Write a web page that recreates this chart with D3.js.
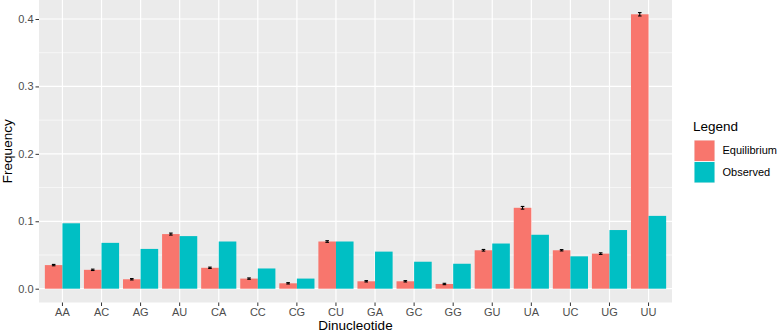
<!DOCTYPE html>
<html><head><meta charset="utf-8">
<script src="https://cdn.jsdelivr.net/npm/d3@7"></script>
<style>body{margin:0;background:#fff}svg{display:block}text{font-family:"Liberation Sans",Arial,Helvetica,sans-serif}</style>
</head><body>
<svg id="c" width="778" height="333"></svg>
<script>
const categories = ["AA","AC","AG","AU","CA","CC","CG","CU","GA","GC","GG","GU","UA","UC","UG","UU"];
const seriesNames = ["Equilibrium","Observed"];
const equilibrium = [0.035,0.028,0.014,0.081,0.031,0.015,0.008,0.070,0.011,0.011,0.007,0.057,0.120,0.057,0.052,0.407];
const equilibriumErr = [0.001,0.001,0.001,0.0015,0.001,0.001,0.001,0.0012,0.001,0.001,0.001,0.0012,0.002,0.001,0.0012,0.0025];
const observed = [0.097,0.068,0.059,0.078,0.070,0.030,0.015,0.070,0.055,0.040,0.037,0.067,0.080,0.048,0.087,0.108];
const yTicks = [0.0,0.1,0.2,0.3,0.4];
const colors = ["#F8766D","#00BFC4"];

const svg = d3.select("#c");
const pL = 39, pR = 672, pT = 0, pB = 302.5;
const y = d3.scaleLinear().domain([0,0.4]).range([288.7,19]);
const x = d3.scaleBand().domain(categories).range([pL,pR]).paddingInner(0).paddingOuter(0.1);
// ggplot discrete expansion: 0.6 units each side
const unit = (pR-pL)/16.2;
x.range([pL+0.6*unit-0.5*unit, pR-0.6*unit+0.5*unit]).paddingOuter(0);
const xs = d3.scaleBand().domain(seriesNames).range([0, x.bandwidth()*0.9]);
const cx = c => x(c) + x.bandwidth()/2;

svg.append("rect").attr("x",pL).attr("y",pT).attr("width",pR-pL).attr("height",pB-pT).attr("fill","#EBEBEB");
// minor grid
const minorY = [0.05,0.15,0.25,0.35];
svg.selectAll(".gmy").data(minorY).enter().append("line")
  .attr("x1",pL).attr("x2",pR).attr("y1",d=>y(d)).attr("y2",d=>y(d))
  .attr("stroke","#fff").attr("stroke-width",0.6);
svg.selectAll(".gy").data(yTicks).enter().append("line")
  .attr("x1",pL).attr("x2",pR).attr("y1",d=>y(d)).attr("y2",d=>y(d))
  .attr("stroke","#fff").attr("stroke-width",1.2);
svg.selectAll(".gx").data(categories).enter().append("line")
  .attr("x1",d=>cx(d)).attr("x2",d=>cx(d)).attr("y1",pT).attr("y2",pB)
  .attr("stroke","#fff").attr("stroke-width",1.2);

const rows = categories.map((c,i)=>({c, vals:[
  {s:seriesNames[0], v:equilibrium[i], e:equilibriumErr[i]},
  {s:seriesNames[1], v:observed[i], e:0}]}));
const off = x.bandwidth()*0.05;
const g = svg.selectAll(".grp").data(rows).enter().append("g");
g.selectAll("rect").data(d=>d.vals.map(v=>({...v,c:d.c}))).enter().append("rect")
  .attr("x",d=>x(d.c)+off+xs(d.s)).attr("width",xs.bandwidth())
  .attr("y",d=>y(d.v)).attr("height",d=>y(0)-y(d.v))
  .attr("fill",(d,i)=>colors[seriesNames.indexOf(d.s)]);
// error bars on equilibrium
const eb = svg.selectAll(".eb").data(categories.map((c,i)=>({c,v:equilibrium[i],e:equilibriumErr[i]}))).enter().append("g")
  .attr("stroke","#000").attr("stroke-width",1.1);
const ebx = d => x(d.c)+off+xs("Equilibrium")+xs.bandwidth()/2;
eb.append("line").attr("x1",ebx).attr("x2",ebx).attr("y1",d=>y(d.v+d.e)).attr("y2",d=>y(d.v-d.e));
eb.append("line").attr("x1",d=>ebx(d)-1.8).attr("x2",d=>ebx(d)+1.8).attr("y1",d=>y(d.v+d.e)).attr("y2",d=>y(d.v+d.e));
eb.append("line").attr("x1",d=>ebx(d)-1.8).attr("x2",d=>ebx(d)+1.8).attr("y1",d=>y(d.v-d.e)).attr("y2",d=>y(d.v-d.e));

// axes
const ya = svg.append("g").attr("transform",`translate(${pL},0)`)
  .call(d3.axisLeft(y).tickValues(yTicks).tickFormat(d3.format(".1f")).tickSize(3.5).tickPadding(2));
ya.select(".domain").remove();
ya.selectAll("line").attr("stroke","#333").attr("stroke-width",1);
ya.selectAll("text").attr("fill","#4D4D4D").attr("font-size","11px").attr("font-family","Liberation Sans, Arial, sans-serif");
const xa = svg.append("g").attr("transform",`translate(0,${pB})`)
  .call(d3.axisBottom(x).tickSize(3.5).tickPadding(2));
xa.select(".domain").remove();
xa.selectAll("line").attr("stroke","#333").attr("stroke-width",1);
xa.selectAll("text").attr("fill","#4D4D4D").attr("font-size","11px").attr("font-family","Liberation Sans, Arial, sans-serif");

svg.append("text").attr("x",(pL+pR)/2).attr("y",330).attr("text-anchor","middle")
  .attr("font-size","13.5px").attr("fill","#000").text("Dinucleotide");
svg.append("text").attr("transform",`translate(12,${(pT+pB)/2}) rotate(-90)`).attr("text-anchor","middle")
  .attr("font-size","13.5px").attr("fill","#000").text("Frequency");

// legend
const lg = svg.append("g");
lg.append("text").attr("x",693).attr("y",131).attr("font-size","13.5px").attr("fill","#000").text("Legend");
seriesNames.forEach((s,i)=>{
  lg.append("rect").attr("x",694).attr("y",140+i*21.5).attr("width",21).attr("height",21.5).attr("fill","#F2F2F2");
  lg.append("rect").attr("x",694.5).attr("y",140.5+i*21.5).attr("width",20).attr("height",20.5).attr("fill",colors[i]);
  lg.append("text").attr("x",722.5).attr("y",150.5+i*21.5).attr("dy","0.35em").attr("font-size","11px").attr("fill","#000").text(s);
});
</script>
</body></html>
